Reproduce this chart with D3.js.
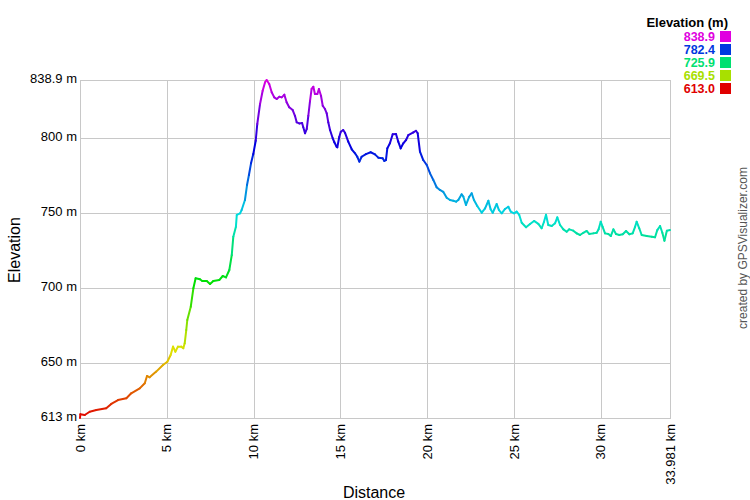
<!DOCTYPE html>
<html><head><meta charset="utf-8">
<script src="https://cdn.jsdelivr.net/npm/d3@7"></script>
<style>
body{margin:0;background:#fff;}
text{font-family:Arial,"Liberation Sans",sans-serif;}
</style></head>
<body><svg id="c" width="750" height="500"></svg>
<script>
// distance in km
const distance = [0,0.02,0.27,0.56,0.94,1.51,1.80,2.19,2.67,2.95,3.44,3.73,3.86,4.01,4.39,4.78,5.03,5.22,5.36,5.49,5.64,5.83,5.95,6.03,6.12,6.18,6.38,6.53,6.66,6.91,7.04,7.30,7.49,7.68,8.02,8.22,8.41,8.60,8.74,8.83,8.98,9.03,9.22,9.31,9.50,9.62,9.73,9.85,9.98,10.12,10.21,10.37,10.52,10.66,10.75,10.90,11.04,11.19,11.33,11.48,11.62,11.77,11.90,12.05,12.25,12.38,12.48,12.63,12.79,12.86,12.96,13.06,13.15,13.25,13.34,13.44,13.53,13.67,13.76,13.88,13.98,14.11,14.21,14.30,14.40,14.55,14.65,14.78,14.82,14.93,15.02,15.16,15.26,15.45,15.65,15.84,15.97,16.09,16.22,16.47,16.74,16.99,17.18,17.43,17.53,17.62,17.70,17.85,18.01,18.20,18.33,18.47,18.62,18.78,18.91,19.20,19.35,19.45,19.58,19.77,19.97,20.16,20.35,20.54,20.73,20.92,21.12,21.31,21.50,21.66,21.79,21.98,22.08,22.23,22.42,22.56,22.69,22.88,23.14,23.33,23.52,23.65,23.77,24.00,24.13,24.29,24.48,24.67,24.81,25.00,25.15,25.30,25.44,25.69,25.92,26.15,26.40,26.59,26.72,26.84,26.97,27.17,27.36,27.49,27.65,27.84,28.03,28.18,28.41,28.61,28.80,28.99,29.18,29.33,29.56,29.76,29.87,29.99,30.10,30.24,30.43,30.57,30.72,30.87,31.06,31.26,31.45,31.64,31.83,31.97,32.06,32.21,32.35,32.64,32.93,33.12,33.25,33.41,33.54,33.66,33.80,33.981];
// elevation in m
const elevation = [613.0,615.5,615.0,617.2,618.3,619.5,622.4,625.0,626.2,629.5,632.8,636.2,641.1,640.2,644.0,648.4,650.6,655.1,660.7,657.3,660.7,660.7,659.6,662.9,671.8,678.5,687.4,699.7,706.4,705.7,704.6,704.6,702.6,704.6,705.2,707.9,707.0,711.9,721.9,734.2,740.9,748.7,749.8,752.0,758.7,768.7,775.4,783.2,789.4,798.3,809.5,822.9,831.7,837.4,838.9,836.2,830.7,827.3,826.2,827.7,827.3,829.1,824.0,820.7,818.8,815.0,810.6,809.9,810.2,807.3,803.3,806.2,815.0,825.1,832.9,834.4,829.5,829.5,832.9,828.4,821.7,819.5,816.6,810.6,805.5,800.1,797.3,794.3,793.9,800.8,804.3,805.5,803.7,797.7,792.6,789.9,787.6,784.3,787.6,789.4,790.6,789.2,787.0,786.6,784.8,785.4,793.2,796.6,802.6,802.8,797.7,793.2,796.6,798.8,802.1,803.9,805.0,803.3,791.0,785.4,782.1,776.5,772.1,767.2,765.4,764.2,760.2,758.7,758.2,757.6,758.7,762.5,760.9,755.4,760.9,763.2,758.7,754.7,750.2,753.1,758.2,752.5,750.2,756.0,752.0,749.8,752.7,754.2,750.9,749.8,750.9,748.7,743.5,740.5,742.7,744.7,742.7,739.8,744.0,748.9,742.0,741.3,743.1,747.1,742.0,739.1,737.5,739.1,738.2,736.4,735.3,736.8,738.0,736.0,736.4,736.8,739.1,744.2,740.8,736.4,736.0,734.6,739.1,736.0,735.3,735.8,738.0,735.8,736.4,740.8,744.2,739.8,735.3,734.6,734.2,733.8,738.6,741.3,736.8,731.5,738.2,738.6];

const xTicks = [0,5,10,15,20,25,30,33.981];
const xTickLabels = ["0 km","5 km","10 km","15 km","20 km","25 km","30 km","33.981 km"];
const yTicks = [613,650,700,750,800,838.9];
const yTickLabels = ["613 m","650 m","700 m","750 m","800 m","838.9 m"];
const legendValues = [838.9,782.4,725.9,669.5,613.0];
const legendLabels = ["838.9","782.4","725.9","669.5","613.0"];

const minE = 613, maxE = 838.9;
const color = v => d3.hsl(300*(v-minE)/(maxE-minE), 1, 0.44).formatHex();

const svg = d3.select("#c");
const L=80, R=670, T=80, B=418;
const x = d3.scaleLinear().domain([0,33.981]).range([L,R]);
const y = d3.scaleLinear().domain([minE,maxE]).range([B,T]);

// grid
const g = svg.append("g");
g.selectAll("line.v").data(xTicks).enter().append("line")
  .attr("x1",d=>Math.round(x(d))+0.5).attr("x2",d=>Math.round(x(d))+0.5)
  .attr("y1",T).attr("y2",B).attr("stroke","#c8c8c8").attr("stroke-width",1);
g.selectAll("line.h").data(yTicks).enter().append("line")
  .attr("y1",d=>Math.round(y(d))+0.5).attr("y2",d=>Math.round(y(d))+0.5)
  .attr("x1",L).attr("x2",R+1).attr("stroke","#c8c8c8").attr("stroke-width",1);

// y labels
svg.selectAll("text.yl").data(yTicks).enter().append("text")
  .attr("x",77).attr("y",d=>y(d)+3).attr("text-anchor","end")
  .attr("font-size","13px").attr("fill","#000")
  .text((d,i)=>yTickLabels[i]);
// x labels
svg.selectAll("text.xl").data(xTicks).enter().append("text")
  .attr("transform",d=>`translate(${x(d)+4.5},424) rotate(-90)`)
  .attr("text-anchor","end").attr("font-size","13px").attr("fill","#000")
  .text((d,i)=>xTickLabels[i]);

// titles
svg.append("text").attr("transform","translate(20,250) rotate(-90)")
  .attr("text-anchor","middle").attr("font-size","16px").text("Elevation");
svg.append("text").attr("x",374).attr("y",498)
  .attr("text-anchor","middle").attr("font-size","16px").text("Distance");
svg.append("text").attr("transform","translate(747,248) rotate(-90)")
  .attr("text-anchor","middle").attr("font-size","12px").attr("fill","#555")
  .text("created by GPSVisualizer.com");

// profile line, coloured by elevation per segment
const pts = distance.map((d,i)=>({d, e:elevation[i]}));
const segs = d3.pairs(pts);
svg.append("g").selectAll("line").data(segs).enter().append("line")
  .attr("x1",p=>x(p[0].d)).attr("y1",p=>y(p[0].e))
  .attr("x2",p=>x(p[1].d)).attr("y2",p=>y(p[1].e))
  .attr("stroke",p=>color((p[0].e+p[1].e)/2))
  .attr("stroke-width",2).attr("stroke-linecap","round");

// legend
svg.append("text").attr("x",728).attr("y",27).attr("text-anchor","end")
  .attr("font-size","13px").attr("font-weight","bold").text("Elevation (m)");
const lg = svg.append("g");
lg.selectAll("rect").data(legendValues).enter().append("rect")
  .attr("x",720).attr("y",(d,i)=>31+i*13).attr("width",11).attr("height",11)
  .attr("fill",d=>color(d));
lg.selectAll("text").data(legendValues).enter().append("text")
  .attr("x",715).attr("y",(d,i)=>41+i*13).attr("text-anchor","end")
  .attr("font-size","12.5px").attr("font-weight","bold").attr("fill",d=>color(d))
  .text((d,i)=>legendLabels[i]);
</script></body></html>
